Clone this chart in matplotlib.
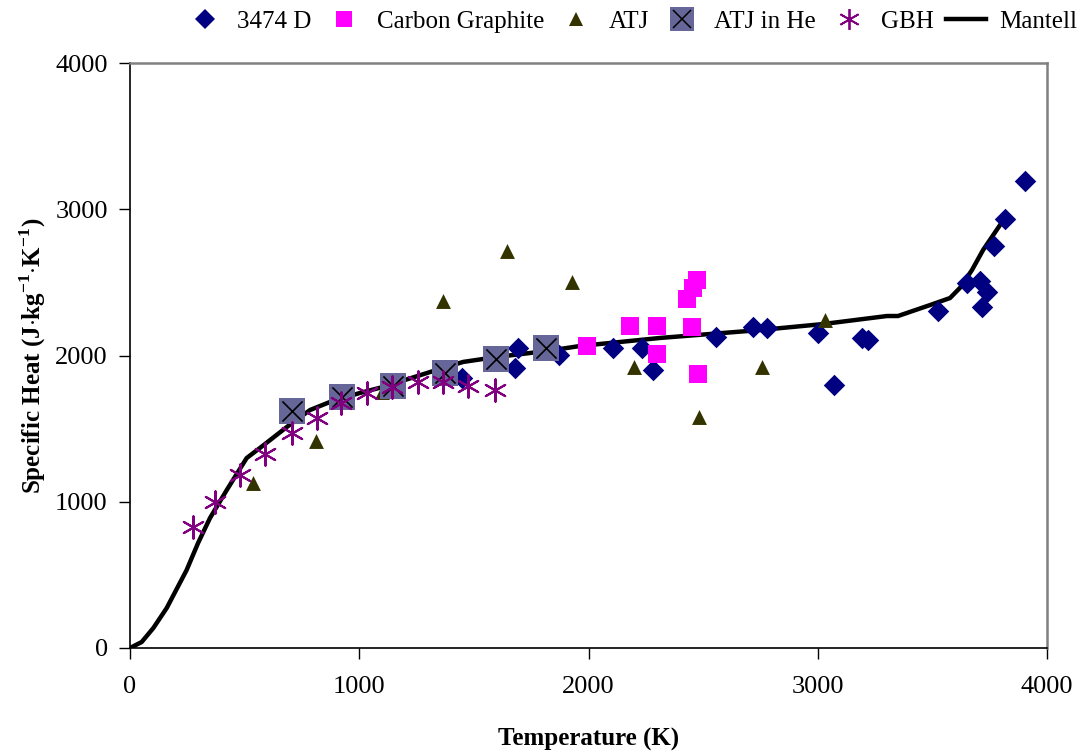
import numpy as np
import matplotlib
matplotlib.use("Agg")
import matplotlib.pyplot as plt
from matplotlib.lines import Line2D

plt.rcParams['font.family'] = ['Liberation Serif', 'DejaVu Serif']
plt.rcParams['mathtext.fontset'] = 'custom'
plt.rcParams['mathtext.rm'] = 'Liberation Serif'
plt.rcParams['mathtext.bf'] = 'Liberation Serif:bold'

# 3474 D
d_temp = [1448, 1692, 1679, 1871, 2107, 2233, 2281, 2556, 2718, 2778, 3001, 3071,
          3193, 3219, 3525, 3651, 3708, 3738, 3717, 3769, 3817, 3904]
d_cp = [1846, 2051, 1915, 2003, 2051, 2051, 1901, 2127, 2195, 2188, 2154, 1798,
        2120, 2106, 2304, 2496, 2509, 2434, 2332, 2749, 2933, 3193]

# Carbon Graphite
cg_temp = [1993, 2181, 2299, 2299, 2430, 2456, 2473, 2451, 2478]
cg_cp = [2065, 2202, 2202, 2010, 2386, 2461, 2516, 2195, 1873]

# ATJ
atj_temp = [537, 811, 1099, 1365, 1644, 1926, 2198, 2482, 2757, 3032]
atj_cp = [1128, 1412, 1750, 2373, 2714, 2500, 1921, 1579, 1921, 2243]

# ATJ in He
he_temp = [707, 925, 1147, 1374, 1596, 1815]
he_cp = [1621, 1716, 1791, 1880, 1976, 2051]

# GBH
gbh_temp = [275, 371, 480, 589, 707, 816, 920, 1034, 1143, 1256, 1365, 1474, 1592]
gbh_cp = [827, 998, 1183, 1326, 1470, 1573, 1675, 1744, 1785, 1819, 1819, 1791, 1764]

# Mantell
m_temp = [0, 51, 102, 160, 247, 297, 349, 422, 509, 567, 684, 785, 872, 1003, 1104,
          1309, 1453, 1600, 1819, 1963, 2312, 2748, 3023, 3302, 3350, 3490, 3577,
          3620, 3673, 3721, 3795]
m_cp = [0, 41, 137, 273, 533, 718, 889, 1080, 1299, 1368, 1511, 1627, 1682, 1744, 1785,
        1887, 1956, 1990, 2031, 2065, 2120, 2174, 2215, 2270, 2270, 2345, 2393,
        2462, 2585, 2721, 2892]

fig = plt.figure(figsize=(10.81, 7.53), dpi=100)
ax = fig.add_axes([130/1081, 105/753, 917/1081, 585/753])

ax.plot(m_temp, m_cp, color='black', lw=3.2, zorder=2, label='Mantell')
ax.scatter(d_temp, d_cp, marker='D', s=120, color='#000080', zorder=3, linewidths=0)
ax.scatter(cg_temp, cg_cp, marker='s', s=150, color='#FF00FF', zorder=3, linewidths=0)
ax.scatter(atj_temp, atj_cp, marker='^', s=115, color='#333300', zorder=3, linewidths=0)
ax.scatter(he_temp, he_cp, marker='s', s=340, color='#666699', zorder=3, linewidths=0)
ax.scatter(he_temp, he_cp, marker='x', s=210, color='black', zorder=4, linewidths=1.2)
ax.scatter(gbh_temp, gbh_cp, marker=(6, 2, 0), s=260, color='#800080', zorder=5, linewidths=1.5)

ax.set_xlim(0, 4000)
ax.set_ylim(0, 4000)
ax.set_xticks([0, 1000, 2000, 3000, 4000])
ax.set_yticks([0, 1000, 2000, 3000, 4000])
ax.tick_params(direction='out', length=8, width=1, labelsize=19, color='black')
ax.tick_params(axis='x', pad=12)
ax.tick_params(axis='y', pad=8)

for side in ['left', 'bottom']:
    ax.spines[side].set_color('black')
    ax.spines[side].set_linewidth(1.2)
for side in ['top', 'right']:
    ax.spines[side].set_color('#808080')
    ax.spines[side].set_linewidth(1.8)

ax.set_xlabel('Temperature (K)', fontsize=18, fontweight='bold', labelpad=22)
ax.set_ylabel(r'Specific Heat (J$\cdot$kg$^{\mathbf{-1}}$$\cdot$K$^{\mathbf{-1}}$)',
              fontsize=18, fontweight='bold', labelpad=5)

handles = [
    Line2D([], [], ls='none', marker='D', ms=10, color='#000080', mew=0),
    Line2D([], [], ls='none', marker='s', ms=11, color='#FF00FF', mew=0),
    Line2D([], [], ls='none', marker='^', ms=10, color='#333300', mew=0),
    (Line2D([], [], ls='none', marker='s', ms=17, color='#666699', mew=0),
     Line2D([], [], ls='none', marker='x', ms=13, color='black', mew=1.1)),
    Line2D([], [], ls='none', marker=(6, 2, 0), ms=15, color='#800080', mew=1.3),
    Line2D([], [], color='black', lw=3.2),
]
labels = ['3474 D', 'Carbon Graphite', 'ATJ', 'ATJ in He', 'GBH', 'Mantell']
fig.legend(handles, labels, loc='upper right', bbox_to_anchor=(1.017, 1.016), ncol=6,
           frameon=False, fontsize=18, handlelength=1.6, handletextpad=0.5,
           columnspacing=0.5)

fig.savefig('out.png', dpi=100)
